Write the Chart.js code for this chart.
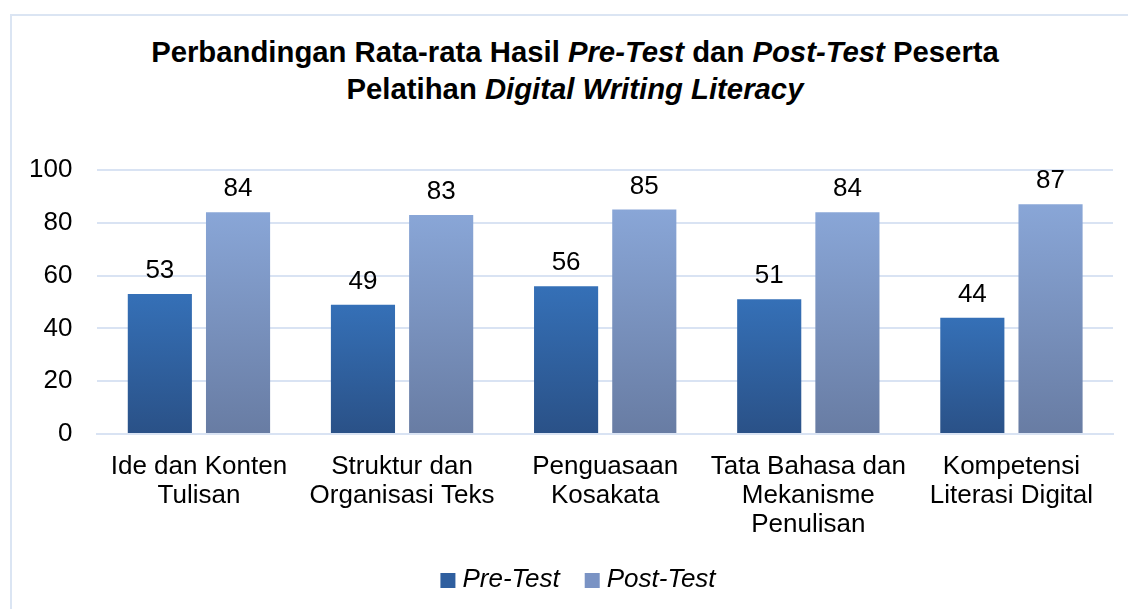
<!DOCTYPE html>
<html>
<head>
<meta charset="utf-8">
<script src="https://cdn.jsdelivr.net/npm/chart.js@4.4.1/dist/chart.umd.min.js"></script>
<style>
    html, body { margin: 0; padding: 0; background: #fff; }
    #wrap { position: relative; width: 1128px; height: 609px; overflow: hidden; }
    #frame {
        position: absolute; left: 10px; top: 14px; width: 1140px; height: 620px;
        border-left: 2px solid #dbe5f3; border-top: 2px solid #dbe5f3; box-sizing: border-box;
    }
    #title {
        position: absolute; left: 0; top: 33px; width: 1150px; text-align: center;
        font-family: "Liberation Sans", Arial, sans-serif; font-weight: bold; font-size: 29.3px;
        line-height: 37px; color: #000;
    }
    canvas { position: absolute; left: 0; top: 0; }
</style>
</head>
<body>
<div id="wrap">
    <div id="frame"></div>
    <div id="title">Perbandingan Rata-rata Hasil <i>Pre-Test</i> dan <i>Post-Test</i> Peserta<br>Pelatihan <i>Digital Writing Literacy</i></div>
    <canvas id="chart" width="1128" height="609"></canvas>
</div>
<script>
// Data
const categories = [
    ['Ide dan Konten', 'Tulisan'],
    ['Struktur dan', 'Organisasi Teks'],
    ['Penguasaan', 'Kosakata'],
    ['Tata Bahasa dan', 'Mekanisme', 'Penulisan'],
    ['Kompetensi', 'Literasi Digital']
];
const preTest = [53, 49, 56, 51, 44];
const postTest = [84, 83, 85, 84, 87];
const seriesNames = ['Pre-Test', 'Post-Test'];
const legendColors = ['#2f5f9f', '#7a93c4'];

const FONT = '"Liberation Sans", Arial, sans-serif';

// per-bar vertical gradient, light at the bar top, darker at the base
function barGradient(top, bottom) {
    return function (ctx) {
        const chart = ctx.chart;
        const y = chart.scales.y;
        if (!y || ctx.parsed === undefined) return top;
        const yTop = y.getPixelForValue(ctx.parsed.y);
        const yBot = y.getPixelForValue(0);
        if (!isFinite(yTop) || !isFinite(yBot) || yTop === yBot) return top;
        const g = chart.ctx.createLinearGradient(0, yTop, 0, yBot);
        g.addColorStop(0, top);
        g.addColorStop(1, bottom);
        return g;
    };
}

// value labels above each bar
const valueLabels = {
    id: 'valueLabels',
    afterDatasetsDraw(chart) {
        const c = chart.ctx;
        c.save();
        c.font = '26px ' + FONT;
        c.fillStyle = '#000';
        c.textAlign = 'center';
        c.textBaseline = 'alphabetic';
        chart.data.datasets.forEach((ds, i) => {
            chart.getDatasetMeta(i).data.forEach((bar, j) => {
                c.fillText(ds.data[j], bar.x, bar.y - 16);
            });
        });
        c.restore();
    }
};

// legend at the bottom, small square then italic name
const bottomLegend = {
    id: 'bottomLegend',
    afterDraw(chart) {
        const c = chart.ctx;
        c.save();
        c.font = 'italic 26px ' + FONT;
        c.textBaseline = 'middle';
        c.textAlign = 'left';
        const box = 15, gap = 7, spacing = 25;
        const widths = chart.data.datasets.map(ds => c.measureText(ds.label).width);
        let total = 0;
        widths.forEach((w, i) => { total += box + gap + w + (i ? spacing : 0); });
        let x = 578 - total / 2;
        const y = 580;
        chart.data.datasets.forEach((ds, i) => {
            c.fillStyle = legendColors[i];
            c.fillRect(x, y - 7, box, box);
            c.fillStyle = '#000';
            c.fillText(ds.label, x + box + gap, y);
            x += box + gap + widths[i] + spacing;
        });
        c.restore();
    }
};

new Chart(document.getElementById('chart'), {
    type: 'bar',
    data: {
        labels: categories,
        datasets: [
            {
                label: seriesNames[0],
                data: preTest,
                backgroundColor: barGradient('#3570b7', '#2a5187'),
                barPercentage: 0.82,
                categoryPercentage: 0.77
            },
            {
                label: seriesNames[1],
                data: postTest,
                backgroundColor: barGradient('#89a6d7', '#687ca3'),
                barPercentage: 0.82,
                categoryPercentage: 0.77
            }
        ]
    },
    options: {
        responsive: false,
        animation: false,
        layout: {
            padding: { top: 170, left: 4, right: 15, bottom: 52 }
        },
        plugins: {
            title: { display: false },
            tooltip: { enabled: false },
            legend: { display: false }
        },
        scales: {
            y: {
                min: 0,
                max: 100,
                ticks: {
                    stepSize: 20,
                    padding: 25,
                    color: '#000',
                    font: { family: FONT, size: 26 }
                },
                grid: { color: '#d9e3f3', lineWidth: 2, drawTicks: false },
                border: { display: false }
            },
            x: {
                ticks: {
                    padding: 18,
                    color: '#000',
                    maxRotation: 0,
                    autoSkip: false,
                    font: { family: FONT, size: 26, lineHeight: 1.115 }
                },
                grid: { display: false, drawTicks: false },
                border: { color: '#d9e3f3', width: 2 }
            }
        }
    },
    plugins: [valueLabels, bottomLegend]
});
</script>
</body>
</html>
